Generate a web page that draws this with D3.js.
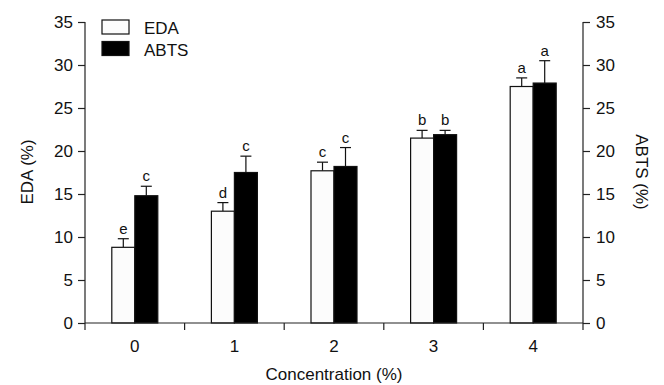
<!DOCTYPE html>
<html>
<head>
<meta charset="utf-8">
<script src="https://cdn.jsdelivr.net/npm/d3@7"></script>
<style>
  body { margin: 0; background: #fff; }
  text { font-family: "Liberation Sans", Arial, sans-serif; fill: #111; }
</style>
</head>
<body>
<div id="chart"></div>
<script>
// data
var concentrations = ["0", "1", "2", "3", "4"];
var edaMean = [8.8, 13.0, 17.7, 21.5, 27.5];
var edaErr = [1.0, 1.0, 1.0, 0.9, 1.0];
var edaLetters = ["e", "d", "c", "b", "a"];
var abtsMean = [14.8, 17.5, 18.2, 21.9, 27.9];
var abtsErr = [1.1, 1.9, 2.2, 0.5, 2.6];
var abtsLetters = ["c", "c", "c", "b", "a"];
var yTicks = [0, 5, 10, 15, 20, 25, 30, 35];

var width = 664, height = 385;
var plotLeft = 85, plotRight = 583, plotTop = 22, plotBottom = 323;
var fs = "17px";

var svg = d3.select("#chart")
  .append("svg")
    .attr("width", width)
    .attr("height", height);

var x = d3.scaleBand()
    .domain(concentrations)
    .range([plotLeft, plotRight]);

var y = d3.scaleLinear()
    .domain([0, 35])
    .range([plotBottom, plotTop]);

var barW = 23;

// bars for both series
var series = [
  {name: "EDA", mean: edaMean, err: edaErr, letters: edaLetters, fill: "#fcfcfc", off: -barW},
  {name: "ABTS", mean: abtsMean, err: abtsErr, letters: abtsLetters, fill: "#000", off: 0}
];

series.forEach(function(s) {
  var g = svg.append("g");
  var rows = concentrations.map(function(c, i) {
    return {c: c, v: s.mean[i], e: s.err[i], l: s.letters[i]};
  });
  var cx = function(d) { return x(d.c) + x.bandwidth() / 2 + s.off; };

  // error bars (upper only)
  g.selectAll(".err").data(rows).enter().append("line")
    .attr("x1", function(d) { return cx(d) + barW / 2; })
    .attr("x2", function(d) { return cx(d) + barW / 2; })
    .attr("y1", function(d) { return y(d.v); })
    .attr("y2", function(d) { return y(d.v + d.e); })
    .attr("stroke", "#111").attr("stroke-width", 1.2);
  g.selectAll(".cap").data(rows).enter().append("line")
    .attr("x1", function(d) { return cx(d) + barW / 2 - 5.5; })
    .attr("x2", function(d) { return cx(d) + barW / 2 + 5.5; })
    .attr("y1", function(d) { return y(d.v + d.e); })
    .attr("y2", function(d) { return y(d.v + d.e); })
    .attr("stroke", "#111").attr("stroke-width", 1.2);

  g.selectAll("rect").data(rows).enter().append("rect")
    .attr("x", cx)
    .attr("y", function(d) { return y(d.v); })
    .attr("width", barW)
    .attr("height", function(d) { return y(0) - y(d.v); })
    .attr("fill", s.fill)
    .attr("stroke", "#111")
    .attr("stroke-width", 1.2);

  g.selectAll(".lab").data(rows).enter().append("text")
    .attr("x", function(d) { return cx(d) + barW / 2; })
    .attr("y", function(d) { return y(d.v + d.e) - 5; })
    .attr("text-anchor", "middle")
    .style("font-size", "15px")
    .text(function(d) { return d.l; });
});

// axes
var leftAxis = d3.axisLeft(y).tickValues(yTicks).tickSize(7).tickPadding(5);
var rightAxis = d3.axisRight(y).tickValues(yTicks).tickSize(7).tickPadding(6);

function styleAxis(g) {
  g.select(".domain").remove();
  g.selectAll("line").attr("stroke", "#222").attr("stroke-width", 1.2);
  g.selectAll("text").style("font-size", fs)
    .style("font-family", "Liberation Sans, Arial, sans-serif").attr("fill", "#111");
}

svg.append("g").attr("transform", "translate(" + plotLeft + ",0)").call(leftAxis).call(styleAxis);
svg.append("g").attr("transform", "translate(" + plotRight + ",0)").call(rightAxis).call(styleAxis);

// axis lines
svg.append("line").attr("x1", plotLeft).attr("x2", plotLeft).attr("y1", y(35)).attr("y2", plotBottom + 7)
  .attr("stroke", "#222").attr("stroke-width", 1.2);
svg.append("line").attr("x1", plotRight).attr("x2", plotRight).attr("y1", y(35)).attr("y2", plotBottom + 7)
  .attr("stroke", "#222").attr("stroke-width", 1.2);
svg.append("line").attr("x1", plotLeft).attr("x2", plotRight).attr("y1", plotBottom).attr("y2", plotBottom)
  .attr("stroke", "#222").attr("stroke-width", 1.2);

// category separator ticks
svg.selectAll(".sep").data(concentrations.slice(1)).enter().append("line")
  .attr("x1", function(d) { return x(d); })
  .attr("x2", function(d) { return x(d); })
  .attr("y1", plotBottom).attr("y2", plotBottom + 7)
  .attr("stroke", "#222").attr("stroke-width", 1.2);

svg.selectAll(".xl").data(concentrations).enter().append("text")
  .attr("x", function(d) { return x(d) + x.bandwidth() / 2; })
  .attr("y", 352)
  .attr("text-anchor", "middle")
  .style("font-size", fs)
  .text(function(d) { return d; });

// titles
svg.append("text").attr("x", (plotLeft + plotRight) / 2).attr("y", 380)
  .attr("text-anchor", "middle").style("font-size", fs)
  .text("Concentration (%)");
svg.append("text").attr("transform", "translate(33,172) rotate(-90)")
  .attr("text-anchor", "middle").style("font-size", fs)
  .text("EDA (%)");
svg.append("text").attr("transform", "translate(636,172) rotate(90)")
  .attr("text-anchor", "middle").style("font-size", fs)
  .text("ABTS (%)");

// legend
var legend = svg.append("g");
series.forEach(function(s, i) {
  legend.append("rect")
    .attr("x", 102).attr("y", 20 + i * 21.5)
    .attr("width", 27).attr("height", 14)
    .attr("fill", s.fill).attr("stroke", "#111").attr("stroke-width", 1.2);
  legend.append("text")
    .attr("x", 144).attr("y", 34 + i * 21.5)
    .style("font-size", fs)
    .text(s.name);
});
</script>
</body>
</html>
